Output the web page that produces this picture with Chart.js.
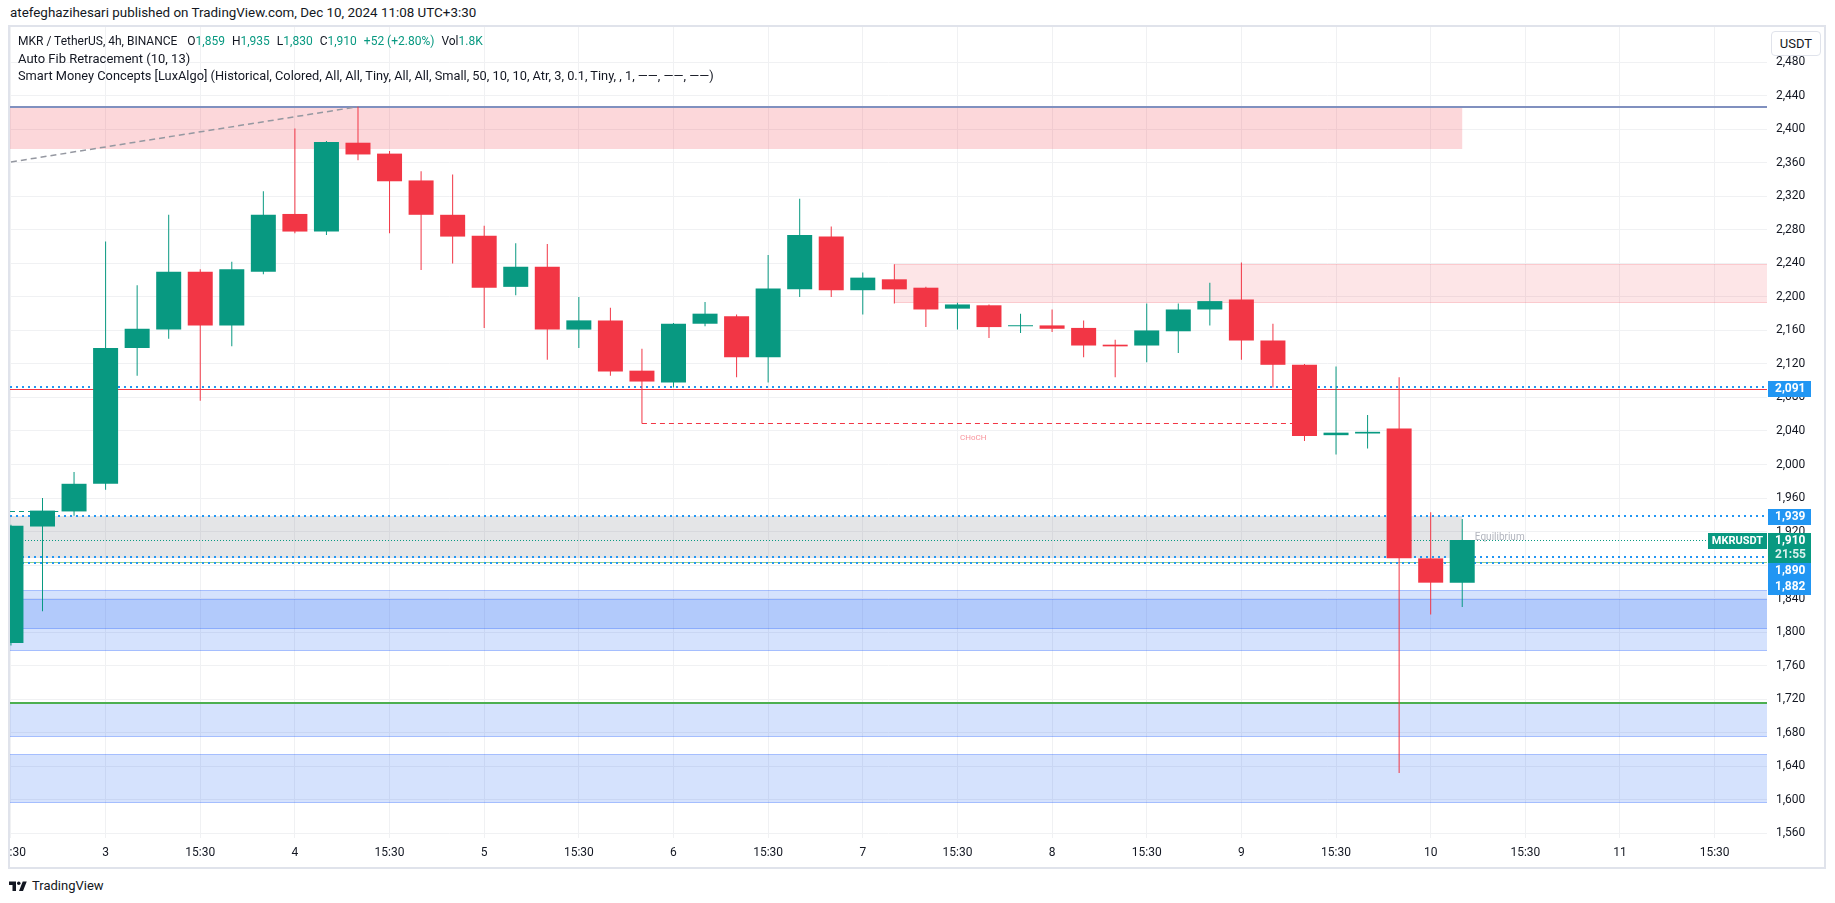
<!DOCTYPE html>
<html>
<head>
<meta charset="utf-8">
<script src="https://cdn.jsdelivr.net/npm/chart.js@4.4.1/dist/chart.umd.min.js"></script>
<style>
html,body{margin:0;padding:0;background:#fff;}
body{width:1835px;height:903px;position:relative;overflow:hidden;font-family:Roboto,"Liberation Sans",sans-serif;color:#131722;}
#hdr{position:absolute;left:10px;top:4px;font-size:13.4px;line-height:18px;white-space:nowrap;}
#frame{position:absolute;left:8px;top:25px;width:1818px;height:844px;border:2px solid #e0e3eb;box-sizing:border-box;}
#wrap{position:absolute;left:10px;top:27px;width:1814px;height:840px;}
#wrap canvas{display:block;}
#legend{position:absolute;left:18px;top:33px;font-size:13px;line-height:17px;white-space:nowrap;z-index:2;}
#legend .l1{font-size:12px;}
#legend .l3{font-size:12.8px;}
#legend .g{color:#089981;}
#legend .s{margin-left:7px;}
#legend .s0{margin-left:10px;}
#usdt{position:absolute;left:1771px;top:31px;width:50px;height:25px;border:1px solid #e0e3eb;border-radius:4px;box-sizing:border-box;background:#fff;font-size:13px;line-height:23px;text-align:center;z-index:2;}
#footer{position:absolute;left:9px;top:877px;height:18px;font-size:13px;line-height:18px;white-space:nowrap;}
#footer svg{position:absolute;left:0;top:3px;}
#footer span{position:absolute;left:23px;top:0;}
</style>
</head>
<body>
<div id="hdr">atefeghazihesari published on TradingView.com, Dec 10, 2024 11:08 UTC+3:30</div>
<div id="frame"></div>
<div id="wrap"><canvas id="c" width="1814" height="840"></canvas></div>
<div id="legend">
<div class="l1">MKR / TetherUS, 4h, BINANCE<span class="s0">O</span><span class="g">1,859</span><span class="s">H</span><span class="g">1,935</span><span class="s">L</span><span class="g">1,830</span><span class="s">C</span><span class="g">1,910</span><span class="s g">+52 (+2.80%)</span><span class="s">Vol</span><span class="g">1.8K</span></div>
<div>Auto Fib Retracement (10, 13)</div>
<div class="l3">Smart Money Concepts [LuxAlgo] (Historical, Colored, All, All, Tiny, All, All, Small, 50, 10, 10, Atr, 3, 0.1, Tiny, , 1, ——, ——, ——)</div>
</div>
<div id="usdt">USDT</div>
<div id="footer"><svg width="18" height="12" viewBox="0 0 36 24"><path d="M14 22H7V10H0V3h14v19zM28 22h-8l7.5-19h8L28 22z" fill="#131722"/><circle cx="19.5" cy="6.5" r="3.5" fill="#131722"/></svg><span>TradingView</span></div>
<script>
// ---- data ----
const candleIndex = [-3,-2,-1,0,1,2,3,4,5,6,7,8,9,10,11,12,13,14,15,16,17,18,19,20,21,22,23,24,25,26,27,28,29,30,31,32,33,34,35,36,37,38,39,40,41,42,43];
const openPrices  = [1787,1926,1944,1977,2139,2161,2230,2166,2230,2299,2278,2384,2371,2339,2298,2273,2212,2236,2161,2172,2112,2098,2168,2177,2128,2209,2272,2208,2221,2211,2186,2190,2165,2166,2163,2143,2142,2159,2185,2197,2148,2119,2035,2037,2043,1888,1859];
const highPrices  = [1928,1960,1991,2266,2214,2298,2233,2242,2326,2401,2386,2427,2374,2350,2346,2285,2264,2263,2200,2187,2138,2169,2194,2179,2250,2317,2284,2229,2239,2212,2193,2191,2180,2185,2172,2149,2192,2192,2217,2241,2168,2120,2117,2059,2104,1943,1935];
const lowPrices   = [1784,1825,1939,1970,2106,2150,2076,2141,2227,2276,2274,2363,2276,2232,2240,2163,2202,2125,2139,2106,2049,2092,2165,2104,2098,2200,2200,2179,2192,2164,2161,2151,2157,2158,2128,2104,2122,2133,2166,2125,2092,2028,2012,2019,1632,1821,1830];
const closePrices = [1927,1945,1977,2139,2162,2230,2166,2233,2298,2278,2385,2370,2338,2298,2272,2211,2236,2161,2172,2111,2099,2168,2180,2128,2210,2274,2208,2223,2209,2185,2191,2164,2166,2162,2142,2141,2160,2185,2195,2148,2119,2034,2038,2039,1888,1859,1910];

const yTickValues = [1560,1600,1640,1680,1720,1760,1800,1840,1880,1920,1960,2000,2040,2080,2120,2160,2200,2240,2280,2320,2360,2400,2440,2480];
const xTickIndex  = [-3,0,3,6,9,12,15,18,21,24,27,30,33,36,39,42,45,48,51];
const xTickLabels = ['15:30','3','15:30','4','15:30','5','15:30','6','15:30','7','15:30','8','15:30','9','15:30','10','15:30','11','15:30'];

// zones: [fromIndex, toIndex, lowPrice, highPrice]; null = chart edge
const premiumZone     = [null, 43, 2376, 2427];
const bearishBlock    = [25, null, 2193, 2239];
const equilibriumZone = [null, 43, 1888, 1939];
const demandZoneLows  = [1804, 1778, 1675, 1596];
const demandZoneHighs = [1850, 1839, 1715, 1654];
// lines
const fibTrendIndex = [-3, 8];
const fibTrendPrice = [2361, 2427];
const fibHighLevel = 2427;
const structureLevel = 2091;
const chochLine = [17, 38, 2049];
const bosLine = [null, -1.5, 1945];
const alertLevels = [2091, 1939, 1890, 1882];
const lastPrice = 1910;
const countdown = '21:55';
const symbolName = 'MKRUSDT';
const swingLowLevel = 1884;
const strongLowLevel = 1715;
const equilibriumLabelAt = [43.4, 1913];
const chochLabelAt = [27.5, 2032];

// ---- chart ----
const UP = '#089981', DOWN = '#F23645';
const candleColors = candleIndex.map((_, k) => closePrices[k] >= openPrices[k] ? UP : DOWN);
const fmt = v => v.toLocaleString('en-US');

const overlay = {
  id: 'smcOverlay',
  beforeDatasetsDraw(chart) {
    const {ctx, chartArea: a, scales: {x, y}} = chart;
    const X = (v, edge) => v === null ? edge : x.getPixelForValue(v);
    const Y = v => y.getPixelForValue(v);
    ctx.save();
    ctx.beginPath(); ctx.rect(a.left, a.top, a.right - a.left, a.bottom - a.top); ctx.clip();
    const band = (z, fill, stroke) => {
      const x0 = X(z[0], a.left), x1 = X(z[1], a.right);
      const y0 = Math.round(Y(z[3])), y1 = Math.round(Y(z[2]));
      ctx.fillStyle = fill; ctx.fillRect(x0, y0, x1 - x0, y1 - y0);
      if (stroke) {
        ctx.strokeStyle = stroke; ctx.lineWidth = 1; ctx.setLineDash([]);
        ctx.beginPath(); ctx.moveTo(x0, y0 + 0.5); ctx.lineTo(x1, y0 + 0.5);
        ctx.moveTo(x0, y1 - 0.5); ctx.lineTo(x1, y1 - 0.5); ctx.stroke();
      }
    };
    const hline = (from, to, price, color, w, dash, dy) => {
      const x0 = X(from, a.left), x1 = X(to, a.right);
      let yy = Math.round(Y(price)) + (dy || 0);
      if (w % 2 === 1) yy += 0.5;
      ctx.strokeStyle = color; ctx.lineWidth = w; ctx.setLineDash(dash);
      ctx.beginPath(); ctx.moveTo(x0, yy); ctx.lineTo(x1, yy); ctx.stroke();
    };
    demandZoneLows.forEach((lo, k) => band([null, null, lo, demandZoneHighs[k]], 'rgba(33,100,243,0.19)', 'rgba(41,98,255,0.28)'));
    band(premiumZone, 'rgba(242,54,69,0.2)');
    band(bearishBlock, 'rgba(242,54,69,0.13)', 'rgba(242,54,69,0.15)');
    band(equilibriumZone, 'rgba(120,123,134,0.2)');
    hline(null, null, strongLowLevel, '#4caf50', 2, []);
    hline(null, null, fibHighLevel, '#8090bf', 2, []);
    ctx.strokeStyle = '#9598a1'; ctx.lineWidth = 1.5; ctx.setLineDash([6, 4]);
    ctx.beginPath();
    ctx.moveTo(X(fibTrendIndex[0]), Y(fibTrendPrice[0]));
    ctx.lineTo(X(fibTrendIndex[1]), Y(fibTrendPrice[1]));
    ctx.stroke();
    hline(null, null, structureLevel, '#F23645', 1, [], 1);
    hline(null, null, swingLowLevel, '#8fd18f', 1, []);
    alertLevels.forEach((p, k) => hline(null, null, p, '#2196f3', 2, [2, 4], k === 0 ? -1 : 0));
    hline(null, null, lastPrice, UP, 1, [1, 2]);
    hline(chochLine[0], chochLine[1], chochLine[2], '#F23645', 1, [5, 4]);
    hline(bosLine[0], bosLine[1], bosLine[2], UP, 1, [5, 4]);
    ctx.setLineDash([]);
    ctx.textBaseline = 'middle';
    ctx.font = '8px Roboto'; ctx.fillStyle = 'rgba(242,54,69,0.55)'; ctx.textAlign = 'center';
    ctx.fillText('CHoCH', X(chochLabelAt[0]), Y(chochLabelAt[1]));
    ctx.font = '10px Roboto'; ctx.fillStyle = '#b2b5be'; ctx.textAlign = 'left';
    ctx.fillText('Equilibrium', X(equilibriumLabelAt[0]), Y(equilibriumLabelAt[1]));
    ctx.restore();
  },
  afterDraw(chart) {
    const {ctx, chartArea: a, scales: {y}} = chart;
    const tags = alertLevels.map(p => ({price: p, lines: [fmt(p)], bg: '#2196f3'}));
    tags.push({price: lastPrice, lines: [fmt(lastPrice), countdown], bg: UP});
    tags.sort((m, n) => n.price - m.price);
    let prevBottom = -1e9;
    ctx.save();
    ctx.textBaseline = 'middle'; ctx.textAlign = 'left';
    tags.forEach(t => {
      const h = t.lines.length === 1 ? 16 : 30;
      let top = Math.round(y.getPixelForValue(t.price)) - 7;
      if (top < prevBottom) top = prevBottom;
      prevBottom = top + h;
      ctx.fillStyle = t.bg;
      ctx.fillRect(a.right + 1, top, 43, h);
      ctx.font = 'bold 12px Roboto';
      ctx.fillStyle = '#fff';
      ctx.fillText(t.lines[0], a.right + 8, top + 8);
      if (t.lines[1]) { ctx.fillStyle = 'rgba(255,255,255,0.85)'; ctx.fillText(t.lines[1], a.right + 8, top + 22); }
      if (t.price === lastPrice) {
        ctx.fillStyle = UP;
        ctx.fillRect(a.right - 59, top, 59, 16);
        ctx.fillStyle = '#fff'; ctx.font = 'bold 11px Roboto'; ctx.textAlign = 'center';
        ctx.fillText(symbolName, a.right - 29.5, top + 8);
        ctx.textAlign = 'left';
      }
    });
    ctx.restore();
  }
};

const noPad = s => { s.paddingLeft = 0; s.paddingRight = 0; s.paddingTop = 0; s.paddingBottom = 0; };
Chart.defaults.font.family = 'Roboto';
new Chart(document.getElementById('c'), {
  type: 'bar',
  data: {
    datasets: [
      { label: 'body', data: candleIndex.map((v, k) => ({x: v, y: [openPrices[k], closePrices[k]]})),
        backgroundColor: candleColors, barThickness: 25, minBarLength: 1, grouped: false, inflateAmount: 0, borderWidth: 0 },
      { label: 'wick', data: candleIndex.map((v, k) => ({x: v, y: [lowPrices[k], highPrices[k]]})),
        backgroundColor: candleColors, barThickness: 1, grouped: false, inflateAmount: 0, borderWidth: 0 }
    ]
  },
  options: {
    responsive: false, animation: false,
    layout: {padding: 0, autoPadding: false},
    plugins: {legend: {display: false}, tooltip: {enabled: false}},
    scales: {
      x: {
        type: 'linear', min: -3.03, max: 52.66, offset: false,
        grid: {offset: false, color: '#f0f1f3', drawTicks: false},
        border: {display: false},
        ticks: {autoSkip: false, maxRotation: 0, padding: 8, color: '#131722', font: {size: 12},
                callback: (v, i) => xTickLabels[i]},
        afterBuildTicks: s => { s.ticks = xTickIndex.map(v => ({value: v})); },
        afterFit: s => { s.height = 29; noPad(s); }
      },
      y: {
        type: 'linear', position: 'right', min: 1554.3, max: 2522.1,
        grid: {color: '#f0f1f3', drawTicks: false},
        border: {display: false},
        ticks: {autoSkip: false, padding: 9, color: '#131722', font: {size: 12},
                callback: v => fmt(v)},
        afterBuildTicks: s => { s.ticks = yTickValues.map(v => ({value: v})); },
        afterFit: s => { s.width = 57; noPad(s); }
      }
    }
  },
  plugins: [overlay]
});
</script>
</body>
</html>
